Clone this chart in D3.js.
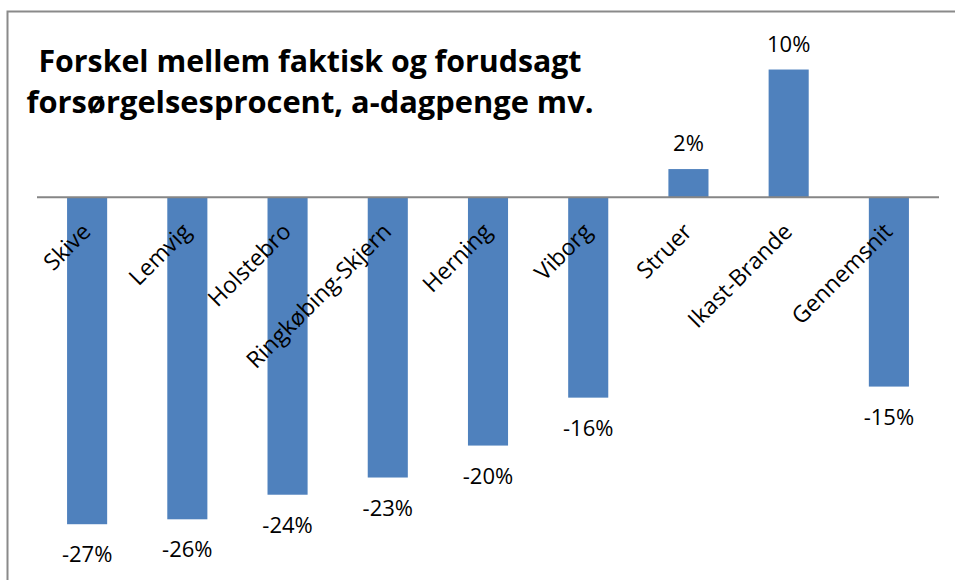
<!DOCTYPE html>
<html>
<head>
<meta charset="utf-8">
<script src="https://cdn.jsdelivr.net/npm/d3@7"></script>
<style>
  body { margin: 0; background: #fff; }
  svg { display: block; }
  text { font-family: "Open Sans", "Liberation Sans", sans-serif; fill: #000; }
</style>
</head>
<body>
<div id="chartContainer"></div>
<script>
// Chart data
const categories = ["Skive", "Lemvig", "Holstebro", "Ringkøbing-Skjern", "Herning",
                    "Viborg", "Struer", "Ikast-Brande", "Gennemsnit"];
const values = [-0.266, -0.262, -0.242, -0.228, -0.202, -0.163, 0.023, 0.104, -0.154];
const titleLines = ["Forskel mellem faktisk og forudsagt",
                    "forsørgelsesprocent, a-dagpenge mv."];
const yDomain = [-0.30, 0.15];

const width = 955, height = 580;

const svg = d3.select("#chartContainer")
    .append("svg")
    .attr("width", width)
    .attr("height", height);

// Chart frame (right and bottom edges fall outside the picture)
svg.append("rect")
    .attr("x", 7.5)
    .attr("y", 11.5)
    .attr("width", 1000)
    .attr("height", 1000)
    .attr("fill", "#fff")
    .attr("stroke", "#8a8a8a")
    .attr("stroke-width", 2);

// Scales
const xScale = d3.scaleBand()
    .domain(categories)
    .range([37, 939])
    .paddingInner(0.6)
    .paddingOuter(0.3);

const yScale = d3.scaleLinear()
    .domain(yDomain)
    .range([566, 13]);

const data = categories.map((c, i) => ({ name: c, value: values[i] }));
const fmt = v => d3.format(".0%")(v).replace("\u2212", "-");

// Bars
svg.selectAll(".bar")
    .data(data)
    .enter()
    .append("rect")
    .attr("class", "bar")
    .attr("x", d => xScale(d.name))
    .attr("y", d => yScale(Math.max(0, d.value)))
    .attr("width", xScale.bandwidth())
    .attr("height", d => Math.abs(yScale(d.value) - yScale(0)))
    .attr("fill", "#4f81bd");

// Zero axis line
svg.append("line")
    .attr("x1", 37)
    .attr("x2", 939)
    .attr("y1", yScale(0))
    .attr("y2", yScale(0))
    .attr("stroke", "#868686")
    .attr("stroke-width", 2);

// Value labels
svg.selectAll(".value-label")
    .data(data)
    .enter()
    .append("text")
    .attr("class", "value-label")
    .attr("x", d => xScale(d.name) + xScale.bandwidth() / 2)
    .attr("y", d => d.value >= 0 ? yScale(d.value) - 18 : yScale(d.value) + 38)
    .attr("text-anchor", "middle")
    .style("font-size", "22px")
    .text(d => fmt(d.value));

// Category labels, rotated
svg.selectAll(".cat-label")
    .data(categories)
    .enter()
    .append("text")
    .attr("class", "cat-label")
    .attr("text-anchor", "end")
    .attr("transform", d => "translate(" + (xScale(d) + xScale.bandwidth() / 2 + 5) + ",233) rotate(-45)")
    .style("font-size", "23px")
    .text(d => d);

// Title
const titleWidths = [543, 567];
svg.selectAll(".title")
    .data(titleLines)
    .enter()
    .append("text")
    .attr("class", "title")
    .attr("x", 310)
    .attr("y", (d, i) => 71.5 + i * 41)
    .attr("text-anchor", "middle")
    .attr("textLength", (d, i) => titleWidths[i])
    .attr("lengthAdjust", "spacingAndGlyphs")
    .style("font-size", "30px")
    .style("font-weight", "bold")
    .text(d => d);
</script>
</body>
</html>
